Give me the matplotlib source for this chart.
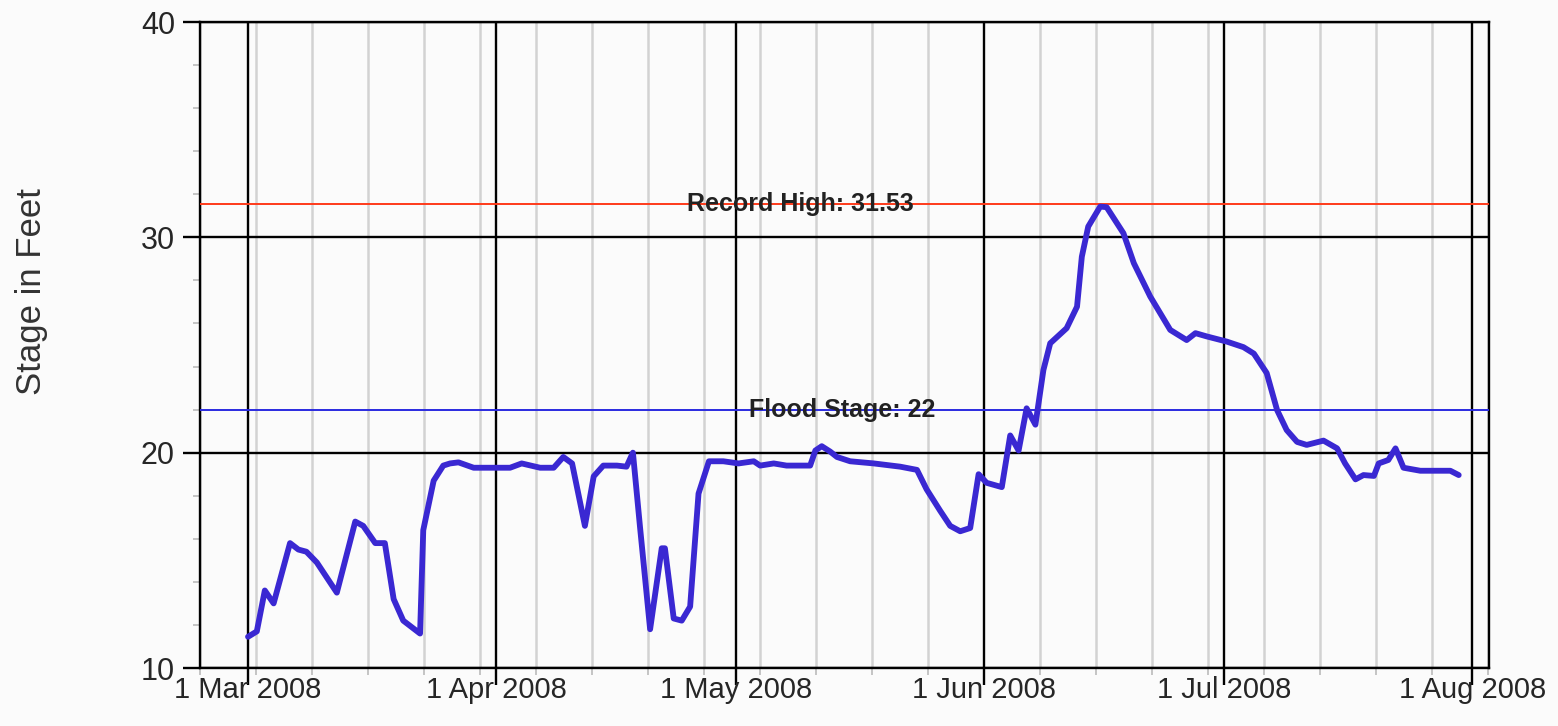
import matplotlib
matplotlib.use("Agg")
import matplotlib.pyplot as plt
import matplotlib.dates as mdates
import numpy as np
import pandas as pd

# 河流水位数据：从 2008-03-01 起的天数，以及水位（英尺）
start_date = "2008-03-01"
day_offsets = [
    0.0, 1.1, 2.1, 3.2, 5.25, 6.3, 7.3, 8.6, 11.1, 13.4, 14.4, 15.9, 17.1,
    18.2, 19.4, 21.5, 21.9, 23.2, 24.4, 25.25, 26.3, 28.2, 30.7, 32.75, 34.2,
    36.5, 38.2, 39.4, 40.5, 42.1, 43.2, 44.4, 46.1, 47.3, 48.1, 49.0, 50.25,
    51.7, 52.1, 53.2, 54.2, 55.25, 56.3, 57.6, 59.4, 61.3, 63.2, 64.0, 65.7,
    67.3, 70.25, 70.9, 71.7, 72.75, 73.6, 75.25, 78.2, 81.5, 83.6, 84.8,
    86.5, 87.75, 89.0, 90.25, 91.3, 92.3, 94.2, 95.25, 96.3, 97.3, 98.4,
    99.4, 100.25, 102.3, 103.6, 104.2, 105.0, 106.5, 107.3, 109.4, 110.7,
    112.75, 115.25, 117.3, 118.4, 119.8, 122.3, 124.4, 125.7, 127.3, 128.6,
    129.8, 131.1, 132.3, 134.4, 136.1, 137.1, 138.4, 139.4, 140.7, 141.3,
    142.5, 143.4, 144.4, 146.5, 150.25, 151.3,
]
stage_ft = [
    11.45, 11.7, 13.6, 13.0, 15.8, 15.5, 15.4, 14.9, 13.5, 16.8, 16.6, 15.8,
    15.8, 13.2, 12.2, 11.6, 16.4, 18.7, 19.4, 19.5, 19.55, 19.3, 19.3, 19.3,
    19.5, 19.3, 19.3, 19.8, 19.5, 16.6, 18.9, 19.4, 19.4, 19.35, 20.0, 16.5,
    11.8, 15.56, 15.56, 12.3, 12.2, 12.85, 18.1, 19.6, 19.6, 19.5, 19.6,
    19.4, 19.5, 19.4, 19.4, 20.1, 20.3, 20.05, 19.8, 19.6, 19.5, 19.35,
    19.2, 18.3, 17.3, 16.6, 16.35, 16.5, 19.0, 18.6, 18.4, 20.8, 20.1, 22.06,
    21.3, 23.84, 25.08, 25.78, 26.78, 29.1, 30.5, 31.43, 31.4, 30.19, 28.8,
    27.25, 25.7, 25.23, 25.55, 25.4, 25.16, 24.9, 24.6, 23.7, 21.98, 21.05,
    20.5, 20.36, 20.56, 20.2, 19.5, 18.76, 18.96, 18.92, 19.5, 19.66, 20.2,
    19.3, 19.16, 19.16, 18.96,
]

record_high = 31.53
flood_stage = 22
month_ticks = ["2008-03-01", "2008-04-01", "2008-05-01", "2008-06-01", "2008-07-01", "2008-08-01"]
month_labels = ["1 Mar 2008", "1 Apr 2008", "1 May 2008", "1 Jun 2008", "1 Jul 2008", "1 Aug 2008"]
y_ticks = [10, 20, 30, 40]

plt.rcParams["font.family"] = ["Liberation Sans", "DejaVu Sans"]

dates = pd.Timestamp(start_date) + pd.to_timedelta(np.array(day_offsets), unit="D")

fig = plt.figure(figsize=(15.58, 7.26), dpi=100, facecolor="#fbfbfb")
ax = fig.add_axes([200 / 1558, 1 - 668 / 726, 1289 / 1558, 646 / 726])
ax.set_facecolor("#fbfbfb")

# 网格：周线为浅灰，月线与整十线为黑色
ax.xaxis.set_minor_locator(mdates.WeekdayLocator(byweekday=mdates.SU))
ax.set_xticks(pd.to_datetime(month_ticks))
ax.set_xticklabels(month_labels)
ax.set_yticks(y_ticks)
ax.set_yticks(np.arange(10, 41, 2), minor=True)
ax.grid(True, axis="x", which="minor", color="#d2d2d2", linewidth=1.8)
ax.grid(True, axis="both", which="major", color="black", linewidth=1.7)
ax.set_axisbelow(True)

ax.axhline(record_high, color="#ff3a1a", linewidth=1.4, zorder=3)
ax.axhline(flood_stage, color="#2a2ae0", linewidth=1.4, zorder=3)
ax.plot(dates, stage_ft, color="#3a28d2", linewidth=4.2,
        solid_joinstyle="round", solid_capstyle="round", zorder=4)

ax.text(pd.Timestamp(start_date) + pd.Timedelta(days=69), record_high, "Record High: 31.53",
        ha="center", va="center", fontsize=18, fontweight="bold", color="#222222", zorder=5)
ax.text(pd.Timestamp(start_date) + pd.Timedelta(days=74.25), flood_stage, "Flood Stage: 22",
        ha="center", va="center", fontsize=18, fontweight="bold", color="#222222", zorder=5)

ax.set_xlim(pd.Timestamp("2008-02-24"), pd.Timestamp("2008-08-03 02:00"))
ax.set_ylim(10, 40)

for s in ax.spines.values():
    s.set_linewidth(1.7)
    s.set_color("black")

ax.tick_params(axis="both", which="major", length=12, width=1.7, color="black",
               labelsize=21, labelcolor="#262626")
ax.tick_params(axis="x", which="major", pad=-6)
ax.tick_params(axis="y", which="major", pad=6, labelsize=22)
ax.tick_params(axis="both", which="minor", length=5, width=1.2, color="#bbbbbb")

fig.text(32 / 1558, 1 - 292 / 726, "Stage in Feet", rotation=90, ha="center", va="center",
         fontsize=25, color="#333333")

fig.savefig("out.png", dpi=100, facecolor=fig.get_facecolor())
